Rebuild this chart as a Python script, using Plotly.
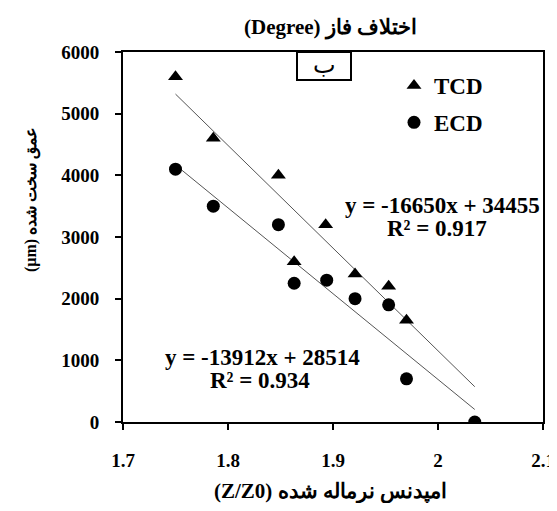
import plotly.graph_objects as go

# ---- data ----
tcd_x = [1.750, 1.786, 1.848, 1.893, 1.863, 1.921, 1.953, 1.970]
tcd_y = [5600, 4600, 4000, 3200, 2600, 2400, 2200, 1650]
ecd_x = [1.750, 1.786, 1.848, 1.863, 1.894, 1.921, 1.953, 1.970, 2.035]
ecd_y = [4100, 3500, 3200, 2250, 2300, 2000, 1900, 700, 0]
tcd_fit = [-16650, 34455]   # slope, intercept
ecd_fit = [-13912, 28514]
tcd_r2 = 0.917
ecd_r2 = 0.934
x_ticks = [1.7, 1.8, 1.9, 2.0, 2.1]
y_ticks = [0, 1000, 2000, 3000, 4000, 5000, 6000]

SERIF = "Liberation Serif, Times New Roman, DejaVu Serif"
FA = "DejaVu Sans, Liberation Serif"

all_x = tcd_x + ecd_x
fx = [min(all_x), max(all_x)]

fig = go.Figure()
fig.add_trace(go.Scatter(x=fx, y=[tcd_fit[0] * v + tcd_fit[1] for v in fx], mode="lines",
                         line=dict(color="#555555", width=1), showlegend=False, hoverinfo="skip"))
fig.add_trace(go.Scatter(x=fx, y=[ecd_fit[0] * v + ecd_fit[1] for v in fx], mode="lines",
                         line=dict(color="#555555", width=1), showlegend=False, hoverinfo="skip"))
fig.add_trace(go.Scatter(x=tcd_x, y=tcd_y, mode="markers", name="<b>TCD</b>", legendgroup="a",
                         marker=dict(symbol="triangle-up", size=13, color="black")))
fig.add_trace(go.Scatter(x=ecd_x, y=ecd_y, mode="markers", name="<b>ECD</b>", legendgroup="b",
                         marker=dict(symbol="circle", size=13, color="black")))


def fmt_eq(f):
    return f"y = {f[0]}x + {f[1]}"


OFF = 8  # page body margin
W, H = 557 - OFF, 511 - 2 * OFF
ML, MR, MT = 123 - OFF, 14, 52 - OFF
MB = H - MT - 370
pw, ph = W - ML - MR, H - MT - MB


def px(xp):
    return (xp - OFF - ML) / pw


def py(yp):
    return 1 - (yp - OFF - MT) / ph


def note(xp, yp, text, font, **kw):
    fig.add_annotation(x=px(xp), y=py(yp), xref="paper", yref="paper", showarrow=False,
                       xanchor="center", yanchor="middle", text=text, font=font, **kw)


eq_font = dict(family=SERIF, size=23, color="black")
note(442, 205, "<b>" + fmt_eq(tcd_fit) + "</b>", eq_font)
note(437, 228, f"<b>R² = {tcd_r2}</b>", eq_font)
note(262, 357, "<b>" + fmt_eq(ecd_fit) + "</b>", eq_font)
note(260, 380, f"<b>R² = {ecd_r2}</b>", eq_font)

# panel label box
fig.add_shape(type="rect", xref="paper", yref="paper", x0=px(297), x1=px(351), y0=py(80), y1=1,
              line=dict(color="black", width=2), fillcolor="white", layer="below")
note(324, 65, "ب", dict(family=FA, size=24, color="black"))

# titles
title_font = dict(family=SERIF, size=21, color="black")
note(330, 27, "<b>(Degree) اختلاف فاز</b>", title_font)
note(330, 491, "<b>(Z/Z0) امپدنس نرماله شده</b>", title_font)
note(31, 200, "<b>(µm) عمق سخت شده</b>", dict(family=SERIF, size=16, color="black"), textangle=-90)

axis_common = dict(showgrid=False, zeroline=False, showline=True, linecolor="black", linewidth=2,
                   mirror=True, ticks="outside", ticklen=6, tickwidth=1.5, tickcolor="black",
                   automargin=False,
                   tickfont=dict(family=SERIF, size=19, color="black"))

fig.update_layout(
    width=W, height=H, margin=dict(l=ML, r=MR, t=MT, b=MB),
    paper_bgcolor="white", plot_bgcolor="white",
    xaxis=dict(range=[1.7, 2.1], tickvals=x_ticks, ticktext=[f"<b>{v:g}</b>" for v in x_ticks],
               ticklabelstandoff=14, **axis_common),
    yaxis=dict(range=[0, 6000], tickvals=y_ticks, ticktext=[f"<b>{v}</b>" for v in y_ticks],
               ticklabelstandoff=12, **axis_common),
    legend=dict(x=px(394), y=py(64), xanchor="left", yanchor="top", bgcolor="rgba(0,0,0,0)",
                font=dict(family=SERIF, size=23, color="black"), traceorder="grouped",
                tracegroupgap=4, itemwidth=30),
    showlegend=True,
)

fig.write_html("out.html")
